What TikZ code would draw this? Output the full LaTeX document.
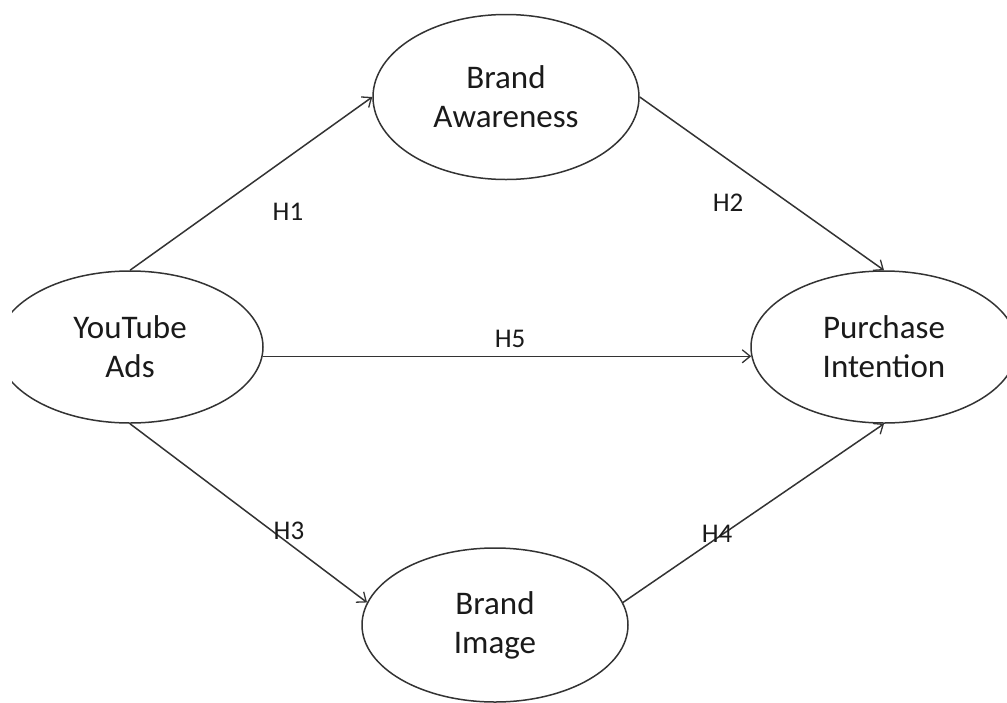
\documentclass[tikz,border=0pt]{standalone}
\usepackage{fontspec}
\setmainfont{Carlito}
\usetikzlibrary{shapes.geometric,arrows.meta}
\definecolor{linec}{HTML}{333333}
\definecolor{textc}{HTML}{1A1A1A}
\begin{document}
\begin{tikzpicture}[x=1pt,y=-1pt,
  construct/.style={ellipse,draw=linec,line width=1.5pt,minimum width=266pt,minimum height=152pt,inner sep=0pt,align=center,text=textc,font=\fontsize{33}{39}\selectfont},
  path/.style={draw=linec,line width=1.5pt,-{Straight Barb[length=8pt,width=13pt,line width=1.3pt]}},
  hyp/.style={text=textc,font=\fontsize{27}{32}\selectfont,inner sep=0pt}]
\useasboundingbox (0,0) rectangle (1007,702);
\clip (12,0) rectangle (1007,702);
\node[construct,minimum height=165pt] (BA) at (506,97) {Brand\\Awareness};
\node[construct] (YA) at (130,347) {YouTube\\Ads};
\node[construct] (PI) at (884,347) {Purchase\\Intention};
\node[construct,minimum height=154pt] (BI) at (495,625) {Brand\\Image};
\draw[path] (YA.north) -- (BA.west);
\draw[path] (BA.east) -- (PI.north);
\draw[path] (YA.-4) -- (PI.184);
\draw[path] (YA.south) -- (BI.170);
\draw[path] (BI.10) -- (PI.south);
\node[hyp] (h1) at (288,212) {H1};
\node[hyp] (h2) at (728,203) {H2};
\node[hyp] (h5) at (510,339) {H5};
\node[hyp] (h3) at (289,531) {H3};
\node[hyp] (h4) at (717,534) {H4};
\end{tikzpicture}
\end{document}
